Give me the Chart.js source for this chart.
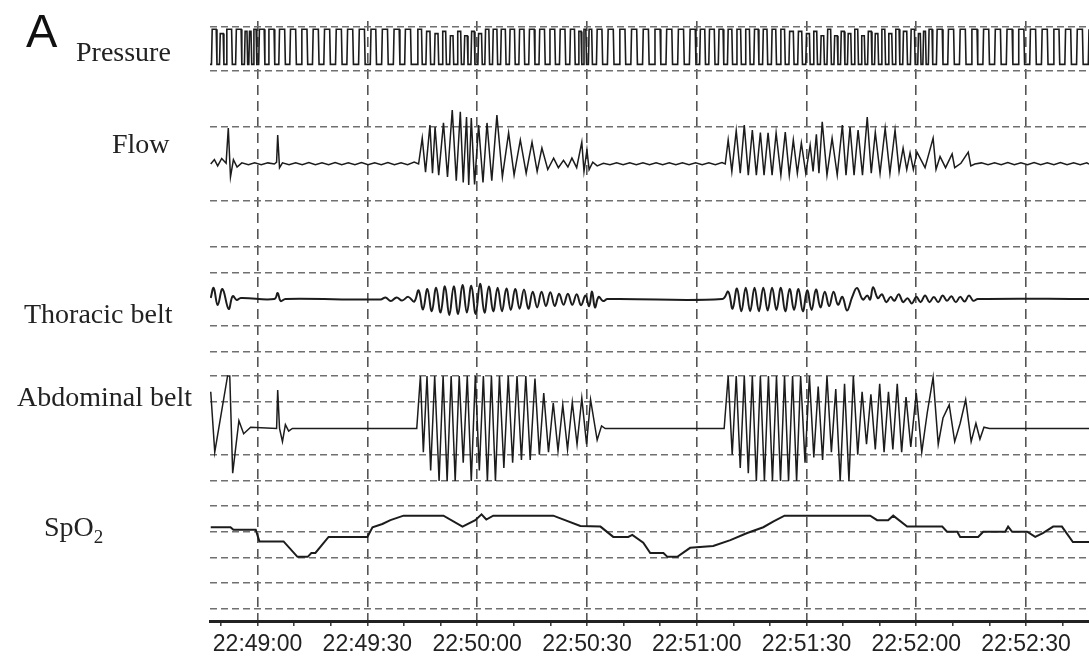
<!DOCTYPE html>
<html>
<head>
<meta charset="utf-8">
<title>Pressure, flow, belts and SpO2</title>
<script src="https://cdn.jsdelivr.net/npm/chart.js@4/dist/chart.umd.min.js"></script>
<style>
  body { margin: 0; background: #fff; }
  #wrap { position: relative; width: 1089px; height: 658px; }
  .lbl { position: absolute; font-family: 'Liberation Serif', 'Times New Roman', serif; font-size: 28px; line-height: 28px; color: #222; white-space: nowrap; }
  .lbl sub { font-size: 19px; line-height: 0; vertical-align: -7px; }
  #panel { position: absolute; left: 26px; top: 7px; font-family: 'Liberation Sans', Arial, sans-serif; font-size: 47px; line-height: 47px; color: #111; }
</style>
</head>
<body>
<div id="wrap">
  <canvas id="chart" width="1089" height="658"></canvas>
  <div id="panel">A</div>
  <div class="lbl" style="left:76px;top:38px">Pressure</div>
  <div class="lbl" style="left:112px;top:130px">Flow</div>
  <div class="lbl" style="left:24px;top:300px">Thoracic belt</div>
  <div class="lbl" style="left:17px;top:383px">Abdominal belt</div>
  <div class="lbl" style="left:44px;top:513px">SpO<sub>2</sub></div>
</div>
<script>
// Time axis: seconds after 22:49:00
const timeTicks = [0, 30, 60, 90, 120, 150, 180, 210];
const timeLabels = ['22:49:00', '22:49:30', '22:50:00', '22:50:30', '22:51:00', '22:51:30', '22:52:00', '22:52:30'];
const minorTicks = [-10, 0, 10, 20, 30, 40, 50, 60, 70, 80, 90, 100, 110, 120, 130, 140, 150, 160, 170, 180, 190, 200, 210, 220];

// Gridline values of each channel
const pressureGrid = [0, 20];
const flowGrid = [-1, 1];
const thoraxGrid = [-2, -1, 1, 2];
const abdomenGrid = [-2, -1, 1, 2];
const spo2Grid = [84, 88, 92, 96, 100];

// Pressure: [onset s, inspiratory time s, peak cmH2O], EPAP level
const pressureLow = 3;
const pressureBreaths = [
  [-12.6, 1.3, 19], [-10.4, 1.0, 17], [-8.6, 1.5, 19], [-6.0, 1.5, 19], [-3.6, 0.7, 18], [-2.4, 0.6, 18],
  [-1.2, 0.8, 19], [0.3, 1.5, 19], [2.9, 1.6, 19], [5.8, 1.6, 19], [8.8, 1.6, 19], [11.9, 1.6, 19],
  [15.0, 1.6, 19], [18.1, 1.6, 19], [21.3, 1.6, 19], [24.4, 1.6, 19], [27.6, 1.6, 19], [30.8, 1.5, 19],
  [33.9, 1.6, 19], [37.1, 1.6, 19], [40.2, 1.6, 19],
  [43.6, 1.2, 19], [46.0, 1.1, 18], [48.3, 1.0, 17], [50.4, 1.0, 18], [52.5, 0.9, 16], [54.5, 1.0, 18],
  [56.4, 0.9, 16], [58.3, 0.9, 18], [60.2, 1.0, 17], [62.1, 1.1, 19], [64.2, 1.2, 19], [66.4, 1.3, 19],
  [68.8, 1.4, 19], [71.4, 1.4, 19], [74.1, 1.5, 19], [76.9, 1.5, 19], [79.7, 1.5, 19], [82.5, 1.5, 19],
  [85.3, 1.3, 19], [87.6, 0.8, 18], [89.0, 0.7, 19], [90.4, 0.9, 19], [92.6, 1.5, 19],
  [95.6, 1.6, 19], [98.8, 1.6, 19], [102.0, 1.6, 19], [105.2, 1.6, 19], [108.4, 1.6, 19], [111.6, 1.6, 19],
  [114.8, 1.6, 19], [118.0, 1.6, 19], [120.8, 1.4, 19], [123.3, 1.5, 19], [125.9, 1.3, 19],
  [128.4, 1.2, 19], [130.8, 1.2, 19], [133.2, 1.2, 19], [135.6, 1.2, 19], [138.0, 1.2, 19], [140.4, 1.2, 19],
  [142.8, 1.2, 19], [145.2, 1.2, 18], [147.6, 1.1, 18], [149.8, 1.0, 17], [151.8, 1.0, 18], [153.8, 0.9, 16],
  [155.6, 1.0, 19], [157.5, 0.9, 16], [159.3, 1.0, 18], [161.2, 0.9, 17], [163.0, 1.0, 19], [164.9, 0.9, 16],
  [166.7, 1.0, 18], [168.6, 0.9, 17], [170.4, 1.0, 19], [172.3, 1.0, 17], [174.2, 1.1, 19], [176.3, 1.1, 18],
  [178.4, 1.1, 19], [180.4, 0.7, 17], [181.8, 0.7, 18], [183.3, 1.0, 19],
  [185.5, 1.6, 19], [188.6, 1.6, 19], [191.8, 1.6, 19], [195.0, 1.6, 19], [198.2, 1.6, 19], [201.4, 1.6, 19],
  [204.6, 1.6, 19], [207.8, 1.6, 19], [211.0, 1.6, 19], [214.2, 1.6, 19], [217.4, 1.6, 19], [220.6, 1.6, 19],
  [223.8, 1.6, 19], [227.0, 1.6, 19]
];

// Flow trace [s, L/s]
const flowTrace = [
  [-12.8, 0.0], [-11.8, 0.12], [-10.9, -0.05], [-9.8, 0.15], [-8.6, 0.02], [-8.0, 0.97], [-7.4, -0.35],
  [-6.6, 0.12], [-5.6, -0.08], [-4.3, 0.03], [-2.5, -0.02], [-0.8, 0.03], [1.0, -0.02], [2.8, 0.03], [4.6, 0.0],
  [5.2, 0.05], [5.5, 0.78], [6.0, -0.1], [6.8, 0.03], [8.6, -0.02], [10.4, 0.03], [12.2, -0.02], [14.0, 0.04],
  [15.8, -0.02], [17.6, 0.03], [19.4, -0.02], [21.2, 0.04], [23.0, -0.02], [24.8, 0.03], [26.6, -0.02],
  [28.4, 0.04], [30.2, -0.02], [32.0, 0.03], [33.8, -0.02], [35.6, 0.04], [37.4, -0.02], [39.2, 0.03],
  [41.0, -0.02], [42.8, 0.05], [44.0, 0.0],
  [45.0, 0.70], [45.9, -0.22], [47.1, 1.05], [47.8, -0.25], [48.5, 1.0], [49.5, -0.3], [50.8, 1.11],
  [51.9, -0.35], [53.2, 1.46], [54.3, -0.45], [55.4, 1.41], [56.2, -0.5], [57.1, 1.27], [57.7, -0.57],
  [58.4, 1.24], [59.3, -0.55], [60.4, 1.05], [61.6, -0.5], [62.7, 1.11], [64.0, -0.45], [65.4, 1.32],
  [66.9, -0.35], [68.6, 0.84], [70.1, -0.3], [71.8, 0.65], [73.4, -0.25], [75.0, 0.59], [76.4, -0.2],
  [77.7, 0.43], [79.3, -0.15], [80.9, 0.16], [82.2, -0.1], [83.6, 0.1], [84.8, -0.08], [85.9, 0.16],
  [87.2, -0.1], [88.6, 0.59], [89.2, -0.2], [90.0, 0.38], [90.6, -0.15], [91.6, 0.05], [92.8, -0.05],
  [94.5, 0.02], [96.3, -0.02], [98.1, 0.03], [99.9, -0.02], [101.7, 0.03], [103.5, -0.02], [105.3, 0.03],
  [107.1, -0.02], [108.9, 0.03], [110.7, -0.02], [112.5, 0.03], [114.3, -0.02], [116.1, 0.03], [117.9, -0.02],
  [119.7, 0.03], [121.5, -0.02], [123.3, 0.03], [125.1, -0.02], [126.9, 0.04], [127.8, 0.0],
  [128.6, 0.65], [129.6, -0.2], [130.8, 0.9], [131.9, -0.25], [133.0, 1.05], [134.1, -0.3], [135.2, 0.92],
  [136.3, -0.3], [137.4, 0.85], [138.4, -0.3], [139.5, 0.84], [140.6, -0.3], [141.7, 0.84], [143.0, -0.3],
  [144.2, 0.86], [145.3, -0.3], [146.4, 0.65], [147.5, -0.25], [148.6, 0.57], [149.8, -0.25], [151.0, 0.51],
  [151.8, -0.2], [152.7, 0.8], [153.4, -0.25], [154.3, 1.14], [155.6, -0.3], [157.0, 0.70], [158.4, -0.3],
  [159.8, 1.05], [160.8, -0.3], [161.9, 1.0], [163.0, -0.3], [164.1, 0.92], [165.3, -0.3], [166.6, 1.27],
  [167.7, -0.25], [168.8, 0.86], [170.1, -0.25], [171.5, 0.97], [172.8, -0.25], [174.2, 0.92], [175.3, -0.2],
  [176.4, 0.43], [177.4, -0.15], [178.3, 0.3], [179.2, -0.15], [180.2, 0.32], [182.4, -0.1], [184.6, 0.70],
  [185.4, -0.15], [186.5, 0.2], [188.0, -0.1], [189.8, 0.27], [190.5, -0.1], [192.2, 0.02], [194.2, 0.32],
  [194.9, -0.05], [196.0, 0.0],
  [197.8, 0.03], [199.6, -0.02], [201.4, 0.03], [203.2, -0.02], [205.0, 0.04], [206.8, -0.02], [208.6, 0.03],
  [210.4, -0.02], [212.2, 0.04], [214.0, -0.02], [215.8, 0.03], [217.6, -0.02], [219.4, 0.04], [221.2, -0.02],
  [223.0, 0.03], [224.8, -0.02], [226.6, 0.03], [227.2, 0.0]
];

// Thoracic belt trace [s, a.u.]
const thoraxTrace = [
  [-12.8, 0.06], [-12.0, 0.44], [-10.9, -0.21], [-9.6, 0.40], [-7.9, -0.36], [-6.8, 0.13], [-5.7, -0.02],
  [-4.6, 0.06], [4.6, 0.02], [5.5, 0.25], [6.3, -0.06], [7.6, 0.02],
  [33.6, 0.0], [35.0, 0.08], [36.4, -0.06], [38.0, 0.08], [39.5, -0.04], [41.2, 0.1], [42.8, -0.08],
  [44.0, 0.35], [45.2, -0.38], [46.4, 0.4], [47.6, -0.45], [48.8, 0.45], [50.0, -0.5], [51.2, 0.5],
  [52.4, -0.6], [53.6, 0.5], [54.8, -0.55], [56.0, 0.55], [57.2, -0.5], [58.4, 0.52], [59.6, -0.55],
  [60.8, 0.6], [62.0, -0.5], [63.2, 0.5], [64.4, -0.45], [65.6, 0.45], [66.8, -0.45], [68.0, 0.42],
  [69.2, -0.4], [70.4, 0.4], [71.6, -0.35], [72.8, 0.38], [74.0, -0.35], [75.2, 0.3], [76.4, -0.3],
  [77.6, 0.3], [78.8, -0.25], [80.0, 0.28], [81.2, -0.25], [82.4, 0.22], [83.6, -0.2], [84.8, 0.22],
  [86.0, -0.2], [87.2, 0.2], [88.4, -0.22], [89.6, 0.15], [90.6, -0.25], [91.4, 0.3], [92.2, -0.3],
  [93.2, 0.1], [94.4, -0.06], [95.6, 0.02], [127.0, 0.02],
  [128.6, 0.3], [129.8, -0.35], [131.0, 0.42], [132.2, -0.45], [133.4, 0.45], [134.6, -0.45], [135.8, 0.45],
  [137.0, -0.45], [138.2, 0.45], [139.4, -0.42], [140.6, 0.45], [141.8, -0.4], [143.0, 0.45], [144.2, -0.45],
  [145.4, 0.4], [146.6, -0.4], [147.8, 0.4], [149.0, -0.45], [150.2, 0.35], [151.4, -0.4], [152.6, 0.38],
  [153.8, -0.3], [155.0, 0.3], [156.2, -0.25], [157.4, 0.3], [158.6, -0.2], [159.8, 0.1], [161.1, -0.42],
  [162.5, 0.1], [163.8, 0.44], [165.4, 0.0], [166.6, 0.15], [167.4, 0.0], [168.2, 0.47], [169.5, 0.05],
  [170.6, 0.2], [171.8, -0.1], [173.0, 0.1], [174.0, -0.05], [175.2, 0.2], [176.4, -0.1], [177.6, 0.05],
  [178.8, -0.15], [180.0, 0.1], [181.2, -0.1], [182.4, 0.15], [183.6, -0.1], [184.8, 0.1], [186.0, -0.1],
  [187.2, 0.15], [188.4, -0.05], [189.6, 0.12], [190.8, -0.1], [192.0, 0.1], [193.2, -0.08], [194.4, 0.15],
  [195.6, -0.05], [196.8, 0.02], [227.2, 0.02]
];

// Abdominal belt trace [s, a.u.], clipped at +/-2
const abdomenTrace = [
  [-12.8, 1.4], [-11.7, -0.9], [-8.2, 2.0], [-7.6, 2.0], [-6.8, -1.7], [-5.1, 0.3], [-3.8, -0.2], [-1.9, 0.05],
  [5.2, 0.0], [5.5, 1.47], [6.0, 0.0], [6.8, -0.5], [7.6, 0.15], [8.5, -0.1], [9.5, 0.0], [43.5, 0.0],
  [44.5, 2.0], [45.3, -0.9], [46.3, 2.0], [47.3, -1.6], [48.4, 2.0], [49.6, -2.0], [50.7, 2.0], [51.8, -2.0],
  [52.9, 2.0], [54.0, -2.0], [55.1, 2.0], [56.2, -1.3], [57.3, 2.0], [58.4, -2.0], [59.5, 2.0], [60.6, -1.6],
  [61.7, 2.0], [62.8, -2.0], [63.9, 2.0], [65.0, -2.0], [66.1, 2.0], [67.3, -1.5], [68.5, 2.0], [69.7, -1.3],
  [70.9, 2.0], [72.1, -1.2], [73.3, 2.0], [74.5, -1.2], [75.8, 1.9], [77.0, -1.0], [78.2, 1.35], [79.5, -0.9],
  [80.8, 0.97], [82.1, -0.85], [83.4, 0.9], [84.7, -0.8], [86.0, 1.0], [87.3, -0.6], [88.6, 1.16], [89.9, -0.6],
  [91.0, 1.1], [92.8, -0.44], [94.0, 0.1], [95.0, 0.0], [127.5, 0.0],
  [128.6, 2.0], [129.7, -1.0], [130.8, 2.0], [131.9, -1.5], [133.0, 2.0], [134.1, -1.7], [135.2, 2.0],
  [136.3, -2.0], [137.4, 2.0], [138.5, -2.0], [139.6, 2.0], [140.7, -2.0], [141.8, 2.0], [142.9, -2.0],
  [144.0, 2.0], [145.1, -2.0], [146.2, 2.0], [147.3, -2.0], [148.4, 2.0], [149.6, -1.3], [150.8, 2.0],
  [152.0, -1.1], [153.2, 1.6], [154.4, -1.2], [155.6, 2.0], [156.8, -0.9], [158.0, 1.5], [159.2, -2.0],
  [160.4, 1.7], [161.6, -2.0], [162.8, 2.0], [164.0, -1.0], [165.2, 1.4], [166.4, -0.6], [167.6, 1.3],
  [168.8, -0.8], [170.0, 1.7], [171.2, -0.9], [172.4, 1.4], [173.6, -0.8], [174.8, 1.7], [176.0, -0.9],
  [177.2, 1.2], [178.5, -0.7], [180.0, 1.35], [181.5, -0.9], [183.0, 0.6], [184.6, 1.95], [186.0, -0.6],
  [187.3, 0.4], [189.0, 0.9], [190.5, -0.5], [192.0, 0.2], [193.5, 1.1], [195.0, -0.5], [196.3, 0.2],
  [197.4, -0.4], [198.5, 0.05], [200.0, 0.0], [227.2, 0.0]
];

// SpO2 trace [s, %]
const spo2Trace = [
  [-12.8, 96.7], [-7.4, 96.7], [-6.6, 96.3], [-0.5, 96.3], [0.5, 94.5], [7.1, 94.5], [10.9, 92.1], [13.7, 92.1],
  [14.7, 92.7], [15.8, 92.7], [19.4, 95.2], [30.0, 95.2], [31.4, 96.7], [34.1, 97.2], [36.3, 97.8], [39.9, 98.5],
  [50.8, 98.5], [56.0, 96.8], [59.5, 97.8], [61.2, 98.7], [62.5, 97.9], [64.4, 98.5], [80.8, 98.5], [88.2, 96.9],
  [93.7, 96.8], [97.2, 95.2], [101.3, 95.2], [102.4, 95.5], [105.4, 94.3], [107.3, 92.7], [110.9, 92.7],
  [112.0, 92.1], [114.7, 92.1], [118.2, 93.5], [124.5, 93.8], [129.2, 94.7], [133.8, 95.8], [138.2, 96.7],
  [141.0, 97.6], [144.0, 98.5], [167.4, 98.5], [169.3, 97.8], [172.3, 97.8], [173.7, 98.5], [177.5, 96.8],
  [187.1, 96.8], [188.4, 96.0], [191.2, 96.0], [192.0, 95.2], [196.9, 95.2], [198.3, 96.0], [204.3, 96.0],
  [205.1, 96.8], [206.2, 96.0], [210.3, 96.0], [212.5, 95.2], [214.6, 95.8], [217.4, 96.8], [219.8, 96.8],
  [222.8, 94.4], [227.2, 94.4]
];

document.addEventListener('DOMContentLoaded', () => {
    // Plot area rows on the canvas
    const plotTop = 21;
    const plotBottom = 621;

    // Stretch a channel axis so that two of its values land on two given rows
    const fitAxis = (v1, y1, v2, y2) => {
        const perPx = (v2 - v1) / (y1 - y2);
        return { min: v1 - (plotBottom - y1) * perPx, max: v1 + (y1 - plotTop) * perPx };
    };

    const bands = {
        pressure: fitAxis(0, 71, 20, 27),
        flow: fitAxis(-1, 201, 1, 127),
        thorax: fitAxis(-2, 352, 2, 247),
        abdomen: fitAxis(-2, 481, 2, 376),
        spo2: fitAxis(84, 609, 100, 506)
    };

    const toPoints = arr => arr.map(([x, y]) => ({ x, y }));

    // Square pressure wave from the breath list
    const pressurePoints = [{ x: -13, y: pressureLow }];
    pressureBreaths.forEach(([onset, ti, peak]) => {
        pressurePoints.push({ x: onset, y: pressureLow });
        pressurePoints.push({ x: onset + 0.2, y: peak });
        pressurePoints.push({ x: onset + ti, y: peak });
        pressurePoints.push({ x: onset + ti + 0.2, y: pressureLow });
    });

    const channelAxis = (band, grid) => ({
        type: 'linear',
        position: 'left',
        min: band.min,
        max: band.max,
        afterBuildTicks: scale => { scale.ticks = grid.map(v => ({ value: v })); },
        afterFit: scale => { scale.width = 0; },
        ticks: { display: false },
        grid: { color: '#707070', lineWidth: 1.6, drawTicks: false, borderDash: [7, 4] },
        border: { display: false, dash: [7, 4] }
    });

    const trace = (data, axis, width, tension) => ({
        data,
        yAxisID: axis,
        borderColor: '#1c1c1c',
        borderWidth: width,
        tension: tension || 0,
        pointRadius: 0,
        fill: false
    });

    new Chart(document.getElementById('chart'), {
        type: 'line',
        data: {
            datasets: [
                trace(pressurePoints, 'pressure', 1.6),
                trace(toPoints(flowTrace), 'flow', 1.5),
                trace(toPoints(thoraxTrace), 'thorax', 2, 0.4),
                trace(toPoints(abdomenTrace), 'abdomen', 1.5),
                trace(toPoints(spo2Trace), 'spo2', 2)
            ]
        },
        options: {
            responsive: false,
            animation: false,
            layout: { padding: { left: 210, top: plotTop, right: 0, bottom: 0 } },
            plugins: { legend: { display: false }, tooltip: { enabled: false } },
            scales: {
                x: {
                    type: 'linear',
                    position: 'bottom',
                    min: -13,
                    max: 227.2,
                    afterBuildTicks: scale => { scale.ticks = minorTicks.map(v => ({ value: v })); },
                    afterFit: scale => { scale.height = 658 - plotBottom; },
                    grid: {
                        color: c => (c.tick && timeTicks.includes(c.tick.value)) ? '#555' : 'rgba(0,0,0,0)',
                        lineWidth: 1.6,
                        tickColor: '#333',
                        tickLength: 5,
                        tickWidth: 1.5,
                        borderDash: [10, 6]
                    },
                    border: { display: true, color: '#222', width: 3, dash: [10, 6] },
                    ticks: {
                        autoSkip: false,
                        maxRotation: 0,
                        padding: 5,
                        color: '#222',
                        font: { family: 'Liberation Sans', size: 23 },
                        callback: v => {
                            const i = timeTicks.indexOf(v);
                            return i >= 0 ? timeLabels[i] : '';
                        }
                    }
                },
                pressure: channelAxis(bands.pressure, pressureGrid),
                flow: channelAxis(bands.flow, flowGrid),
                thorax: channelAxis(bands.thorax, thoraxGrid),
                abdomen: channelAxis(bands.abdomen, abdomenGrid),
                spo2: channelAxis(bands.spo2, spo2Grid)
            }
        }
    });
});
</script>
</body>
</html>
